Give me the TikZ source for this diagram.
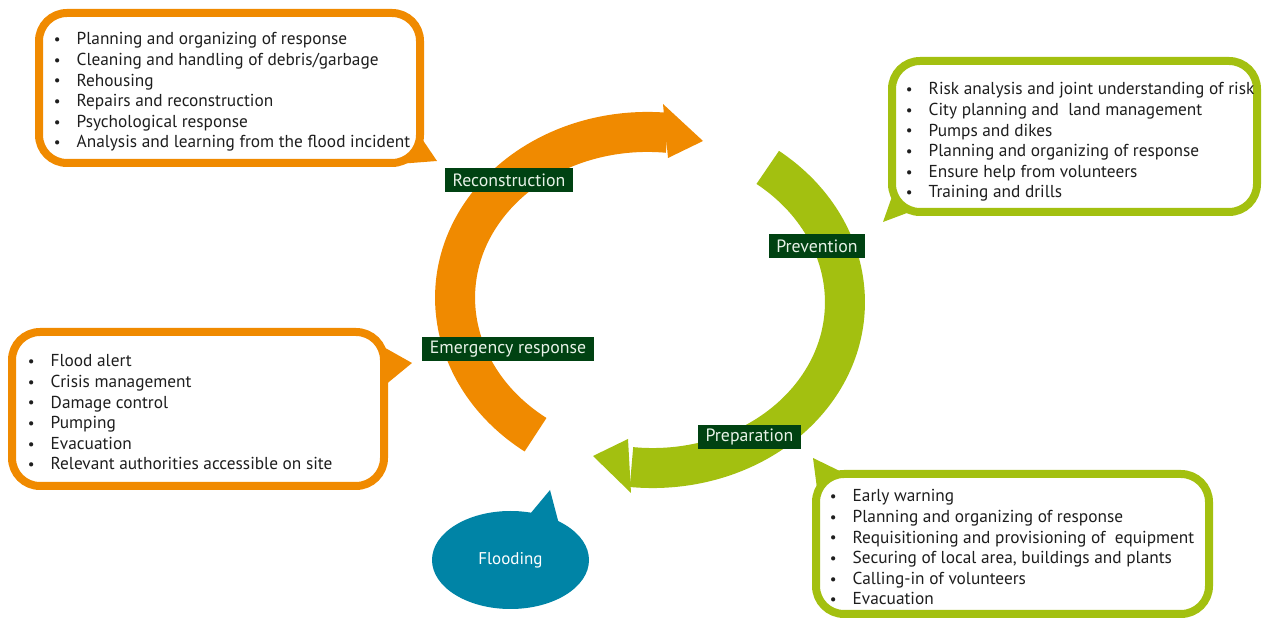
\documentclass[tikz,border=0pt]{standalone}
\usepackage{fontspec}
\setmainfont{PT Sans}
\usetikzlibrary{shapes.geometric}
\definecolor{orng}{RGB}{240,138,0}
\definecolor{lime}{RGB}{163,192,16}
\definecolor{lbl}{RGB}{0,66,18}
\definecolor{lbltext}{RGB}{232,242,232}
\definecolor{tealb}{RGB}{0,132,166}
\definecolor{txt}{RGB}{30,30,30}
\newcommand\mybullet{\makebox[0pt][c]{\raisebox{0.3pt}{\fontsize{15}{15}\selectfont\textbullet}}\hspace{19.5pt}}
\begin{document}
\begin{tikzpicture}[x=1pt,y=1pt,
  callout/.style={line width=8pt, rounded corners=28pt, fill=white},
  item/.style={anchor=base west, inner sep=0pt, text=txt, font=\fontsize{17.3}{20}\selectfont},
  phase/.style={fill=lbl, text=lbltext, inner xsep=7.5pt, inner ysep=0pt, minimum height=24pt, font=\fontsize{17.8}{20}\selectfont},
  band/.style={line width=40pt}]
\useasboundingbox (0,0) rectangle (1262,621);
% cycle arrows
\begin{scope}[shift={(650,321)}, rotate=-2.5]
  \draw[band, orng] (236.2:195 and 168) arc[start angle=236.2, end angle=87, x radius=195, y radius=168];
  \draw[band, lime] (55:195 and 168) arc[start angle=55, end angle=-93.3, x radius=195, y radius=168];
\end{scope}
\fill[orng] (663,517) -- (703,480) -- (668,463) -- cycle;
\fill[lime] (628,182) -- (593,165) -- (631,128) -- cycle;
% phase labels
\node[phase] (recon) at (509,441) {Reconstruction};
\node[phase] (prev) at (817,374.5) {Prevention};
\node[phase] (emerg) at (508,272) {Emergency response};
\node[phase] (prep) at (749.5,184) {Preparation};
% callouts
\fill[orng] (416,491) -- (437,460) -- (398,457) -- cycle;
\draw[callout, draw=orng] (39,458) rectangle (420,608);
\fill[lime] (895,433) -- (883,399) -- (915,411) -- cycle;
\draw[callout, draw=lime] (892,409) rectangle (1257,560);
\fill[orng] (380,276) -- (412,258) -- (384,235) -- cycle;
\draw[callout, draw=orng] (12,135) rectangle (384,289);
\fill[lime] (813,163) -- (850,145) -- (818,125) -- cycle;
\draw[callout, draw=lime] (816,7) rectangle (1209,147);
% texts
\foreach \t [count=\i from 0] in {Planning and organizing of response, Cleaning and handling of debris/garbage, Rehousing, Repairs and reconstruction, Psychological response, Analysis and learning from the flood incident}
  \node[item] (tl\i) at (57,{576-20.6*\i}) {\mybullet\t};
\foreach \t [count=\i from 0] in {Risk analysis and joint understanding of risk, City planning and~ land management, Pumps and dikes, Planning and organizing of response, Ensure help from volunteers, Training and drills}
  \node[item] (tr\i) at (909,{526-20.6*\i}) {\mybullet\t};
\foreach \t [count=\i from 0] in {Flood alert, Crisis management, Damage control, Pumping, Evacuation, Relevant authorities accessible on site}
  \node[item] (bl\i) at (31,{254-20.6*\i}) {\mybullet\t};
\foreach \t [count=\i from 0] in {Early warning, Planning and organizing of response, Requisitioning and provisioning of~ equipment, {Securing of local area, buildings and plants}, Calling-in of volunteers, Evacuation}
  \node[item] (br\i) at (833,{119-20.6*\i}) {\mybullet\t};
% flooding
\fill[tealb] (525,101) -- (550,131) -- (560,93) -- cycle;
\node[ellipse, fill=tealb, minimum width=157pt, minimum height=98pt, inner sep=0pt, text=white, font=\fontsize{17}{20}\selectfont] (flood) at (510.5,61) {Flooding};
\end{tikzpicture}
\end{document}
